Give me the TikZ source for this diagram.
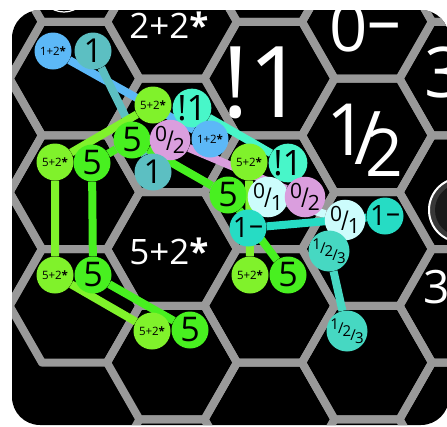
\documentclass[tikz,border=0pt]{standalone}
\usepackage{fontspec}
\setmainfont{Open Sans}
\setsansfont{Open Sans}
\usepackage{graphicx}
\pgfdeclarelayer{board}
\pgfdeclarelayer{links}
\pgfsetlayers{board,links,main}
\definecolor{cBlue}{HTML}{5CB8F7}
\definecolor{cTeal}{HTML}{5CBFC2}
\definecolor{cLime}{HTML}{80F22B}
\definecolor{cGreen}{HTML}{48F020}
\definecolor{cAqua}{HTML}{48F6C9}
\definecolor{cPlum}{HTML}{DA9EDE}
\definecolor{cCyan}{HTML}{CCFCFC}
\definecolor{cTurq}{HTML}{26DCC4}
\definecolor{cMint}{HTML}{46D8C2}
\definecolor{cGrid}{HTML}{999999}
\newcommand\fsz[1]{\fontsize{#1}{#1}\selectfont}
\newcommand\frx[2]{\raisebox{.3em}{#1}\kern-.05em\raisebox{-.12em}{\scalebox{1}[1.3]{/}}\kern-.05em\raisebox{-.3em}{#2}}
\newcommand\frt[3]{\raisebox{.45em}{#1}\kern-.06em\raisebox{.2em}{/}\kern-.06em{#2}\kern-.06em\raisebox{-.25em}{/}\kern-.06em\raisebox{-.45em}{#3}}
\newcommand\dsh{\raisebox{.12em}{–}}
\tikzset{
  unit/.style={circle, minimum size=37pt, inner sep=0pt, text=black},
  link/.style={line width=8pt},
  hexlabel/.style={text=white, inner sep=0pt},
  hexline/.style={draw=cGrid, line width=8pt, line join=round},
}
\begin{document}
\begin{tikzpicture}[x=1pt,y=-1pt]
\useasboundingbox (0,0) rectangle (447,426);
\begin{pgfonlayer}{board}
\fill[black, rounded corners=28pt] (12,10) rectangle (449,425);
\begin{scope}
\clip[rounded corners=28pt] (12,10) rectangle (449,425);
\foreach \c in {-1,...,5}{
  \pgfmathsetmacro\hx{74.5+97.5*\c}
  \pgfmathsetmacro\off{mod(\c+2,2)==0 ? 78.6 : 21.8}
  \foreach \m in {-1,...,4}{
    \pgfmathsetmacro\hy{\off+113.6*\m}
    \pgfmathtruncatemacro\skiphex{(\c<1 && \hy>350) ? 1 : 0}
    \ifnum\skiphex=0
    \draw[hexline] (\hx+65,\hy) -- (\hx+32.5,\hy+56.8) -- (\hx-32.5,\hy+56.8) -- (\hx-65,\hy) -- (\hx-32.5,\hy-56.8) -- (\hx+32.5,\hy-56.8) -- cycle;
    \fi
  }
}
\draw[white, line width=1.2pt, fill=black] (64,-12) circle (24);
\end{scope}
\fill[black!78] (461,210) circle (33);
\fill[black!90] (461,210) circle (26);
\draw[white, line width=2pt] (461,210) circle (32);
\node[hexlabel, font=\fsz{35}] (h22) at (169,25) {2+2\textbf{*}};
\node[hexlabel, font=\fsz{99}] (hx1) at (264,83) {!1};
\node[hexlabel, font=\fsz{67}] (h0) at (365,28) {0\dsh};
\node[hexlabel, font=\fsz{35}] (h52) at (169,251) {5+2\textbf{*}};
\node[hexlabel, font=\fsz{72}] (hn) at (347,130) {1};
\node[hexlabel, font=\fsz{74}] (hs) at (368,138) {/};
\node[hexlabel, font=\fsz{66}] (hd) at (384,153) {2};
\node[hexlabel, font=\fsz{70}, anchor=west] (h3a) at (424,72) {3};
\node[hexlabel, font=\fsz{46}, anchor=west] (h3b) at (423,287) {3};
\end{pgfonlayer}
% units
\node[unit, fill=cBlue, font=\fsz{11.5}] (b1) at (53,51) {1+2\textbf{*}};
\node[unit, fill=cTeal, font=\fsz{33}] (t1) at (93,51) {1};
\node[unit, fill=cLime, font=\fsz{11.5}] (y1) at (153,105) {5+2\textbf{*}};
\node[unit, fill=cAqua, font=\fsz{35}] (a1) at (192,108) {!1};
\node[unit, fill=cGreen, font=\fsz{34}] (g1) at (132,140) {5};
\node[unit, fill=cPlum, font=\fsz{21}] (p1) at (170,140) {\frx{0}{2}};
\node[unit, fill=cBlue, font=\fsz{11.5}] (b2) at (210,139) {1+2\textbf{*}};
\node[unit, fill=cTeal, font=\fsz{33}] (t2) at (153,172) {1};
\node[unit, fill=cLime, font=\fsz{11.5}] (y2) at (249,162) {5+2\textbf{*}};
\node[unit, fill=cAqua, font=\fsz{35}] (a2) at (288,163) {!1};
\node[unit, fill=cGreen, font=\fsz{34}] (g2) at (228,195) {5};
\node[unit, fill=cCyan, font=\fsz{21}] (c1) at (268,197) {\frx{0}{1}};
\node[unit, fill=cPlum, font=\fsz{21}] (p2) at (305,197) {\frx{0}{2}};
\node[unit, fill=cTurq, font=\fsz{28}] (q1) at (248,228) {1\dsh};
\node[unit, fill=cCyan, font=\fsz{21}] (c2) at (345,220) {\frx{0}{1}};
\node[unit, fill=cTurq, font=\fsz{28}] (q2) at (385,216) {1\dsh};
\node[unit, fill=cMint, font=\fsz{15}] (m1) at (329,251) {\frt{1}{2}{3}};
\node[unit, fill=cMint, font=\fsz{15}] (m2) at (347,331) {\frt{1}{2}{3}};
\node[unit, fill=cLime, font=\fsz{11.5}] (y3) at (250,275) {5+2\textbf{*}};
\node[unit, fill=cGreen, font=\fsz{34}] (g3) at (288,275) {5};
\node[unit, fill=cLime, font=\fsz{11.5}] (yL1) at (55,162) {5+2\textbf{*}};
\node[unit, fill=cGreen, font=\fsz{34}] (gL1) at (92,163) {5};
\node[unit, fill=cLime, font=\fsz{11.5}] (yL2) at (55,275) {5+2\textbf{*}};
\node[unit, fill=cGreen, font=\fsz{34}] (gL2) at (93,275) {5};
\node[unit, fill=cLime, font=\fsz{11.5}] (yL3) at (152,331) {5+2\textbf{*}};
\node[unit, fill=cGreen, font=\fsz{34}] (gL3) at (190,330) {5};
\begin{pgfonlayer}{links}
\draw[link, cBlue] (b1) -- (b2);
\draw[link, cTeal] (t1) -- (t2);
\draw[link, cLime] (yL2) -- (yL1) -- (y1);
\draw[link, cLime] (yL2) -- (yL3);
\draw[link, cLime] (y2) -- (y3);
\draw[link, cGreen] (gL2) -- (gL1) -- (g1) -- (g2) -- (g3);
\draw[link, cGreen] (gL2) -- (gL3);
\draw[link, cAqua] (a1) -- (a2);
\draw[link, cPlum] (p1) -- (p2);
\draw[link, cCyan] (c1) -- (c2);
\draw[link, cTurq] (q1) -- (q2);
\draw[link, cMint] (m1) -- (m2);
\end{pgfonlayer}
\end{tikzpicture}
\end{document}
